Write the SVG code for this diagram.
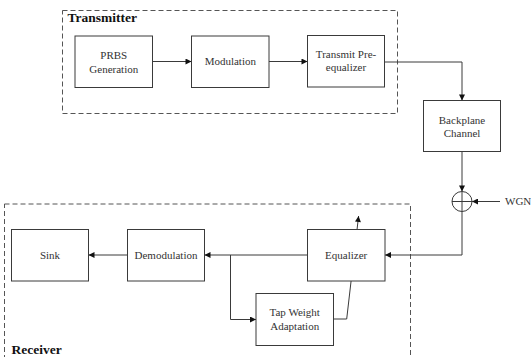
<svg xmlns="http://www.w3.org/2000/svg" width="531" height="357" viewBox="0 0 531 357">
<style>
.box{fill:#fff;stroke:#3a3a3a;stroke-width:1}
.grp{fill:none;stroke:#555;stroke-width:1;stroke-dasharray:5,3}
.t{font-family:"Liberation Serif","Times New Roman",serif;font-size:11px;fill:#333;text-anchor:middle}
.h{font-family:"Liberation Serif","Times New Roman",serif;font-size:13.5px;font-weight:bold;fill:#111}
.ln{fill:none;stroke:#3a3a3a;stroke-width:1}
</style>
<defs>
<marker id="ah" viewBox="0 0 10 10" refX="10" refY="5" markerWidth="8" markerHeight="6" markerUnits="userSpaceOnUse" orient="auto">
<path d="M0,0 L10,5 L0,10 z" fill="#111"/>
</marker>
</defs>
<rect fill="#fff" width="531" height="357"/>
<g id="transmitter">
<rect class="grp" x="62.5" y="10.5" width="335" height="103"/>
<text class="h" x="67.5" y="22">Transmitter</text>
</g>
<g id="receiver">
<rect class="grp" x="4.5" y="204" width="406" height="160"/>
<text class="h" x="11.5" y="353.5">Receiver</text>
</g>
<g id="connectors">
<line class="ln" x1="152.5" y1="61.5" x2="191.5" y2="61.5" marker-end="url(#ah)"/>
<line class="ln" x1="269" y1="61.5" x2="307.5" y2="61.5" marker-end="url(#ah)"/>
<polyline class="ln" points="384.5,62 462,62 462,100.5" marker-end="url(#ah)"/>
<line class="ln" x1="462" y1="151.5" x2="462" y2="191.5" marker-end="url(#ah)"/>
<line class="ln" x1="500" y1="201.5" x2="472" y2="201.5" marker-end="url(#ah)"/>
<polyline class="ln" points="462,211.5 462,255 385,255" marker-end="url(#ah)"/>
<line class="ln" x1="307.5" y1="255" x2="204.5" y2="255" marker-end="url(#ah)"/>
<line class="ln" x1="127.5" y1="255" x2="88.5" y2="255" marker-end="url(#ah)"/>
<polyline class="ln" points="230.5,255 230.5,319.5 256,319.5" marker-end="url(#ah)"/>
<polyline class="ln" points="333.5,319 346.7,319 358.6,216" marker-end="url(#ah)"/>
</g>
<g id="prbs">
<rect class="box" x="75" y="36" width="77.5" height="51.5"/>
<text class="t" x="113.8" y="59">PRBS</text>
<text class="t" x="113.8" y="72.5">Generation</text>
</g>
<g id="modulation">
<rect class="box" x="191.5" y="36" width="77.5" height="51.5"/>
<text class="t" x="230.3" y="65">Modulation</text>
</g>
<g id="preeq">
<rect class="box" x="307.5" y="35.5" width="77" height="51.5"/>
<text class="t" x="346" y="58">Transmit Pre-</text>
<text class="t" x="346" y="71">equalizer</text>
</g>
<g id="backplane">
<rect class="box" x="423.5" y="100.5" width="77" height="51"/>
<text class="t" x="462" y="124">Backplane</text>
<text class="t" x="462" y="136.5">Channel</text>
</g>
<g id="adder">
<circle cx="462" cy="201.5" r="10" fill="#fff" stroke="#3a3a3a" stroke-width="1"/>
<line class="ln" x1="452" y1="201.5" x2="472" y2="201.5"/>
<line class="ln" x1="462" y1="191.5" x2="462" y2="211.5"/>
</g>
<g id="wgn">
<text class="t" x="505" y="205" style="text-anchor:start">WGN</text>
</g>
<g id="equalizer">
<rect class="box" x="307.5" y="229.5" width="77.5" height="51.5"/>
<text class="t" x="346.2" y="259">Equalizer</text>
</g>
<g id="demodulation">
<rect class="box" x="127.5" y="229.5" width="77" height="51.5"/>
<text class="t" x="166" y="259">Demodulation</text>
</g>
<g id="sink">
<rect class="box" x="11.5" y="229.5" width="77" height="51.5"/>
<text class="t" x="50" y="259">Sink</text>
</g>
<g id="tapweight">
<rect class="box" x="256" y="293.5" width="77.5" height="52"/>
<text class="t" x="294.7" y="316">Tap Weight</text>
<text class="t" x="294.7" y="329.5">Adaptation</text>
</g>
</svg>
